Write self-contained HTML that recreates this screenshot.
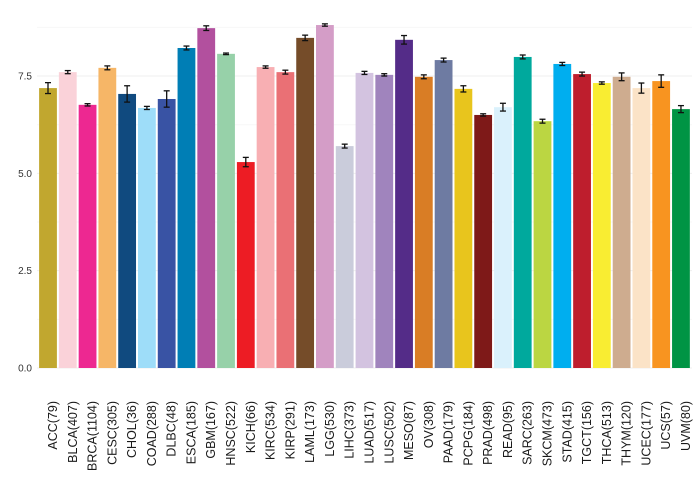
<!DOCTYPE html>
<html><head><meta charset="utf-8"><style>
html,body{margin:0;padding:0;background:#fff;}
svg{display:block;font-family:"Liberation Sans",sans-serif;}
</style></head><body>
<svg id="chart" width="700" height="480" viewBox="0 0 700 480" xmlns="http://www.w3.org/2000/svg">
<g id="grid"></g>
<g id="bars"></g>
<g id="errs"></g>
<g id="yax"></g>
<g id="xax"></g>
</svg>
<script>
const categories = ["ACC(79)","BLCA(407)","BRCA(1104)","CESC(305)","CHOL(36)","COAD(288)","DLBC(48)","ESCA(185)","GBM(167)","HNSC(522)","KICH(66)","KIRC(534)","KIRP(291)","LAML(173)","LGG(530)","LIHC(373)","LUAD(517)","LUSC(502)","MESO(87)","OV(308)","PAAD(179)","PCPG(184)","PRAD(498)","READ(95)","SARC(263)","SKCM(473)","STAD(415)","TGCT(156)","THCA(513)","THYM(120)","UCEC(177)","UCS(57)","UVM(80)"];
const values = [7.19,7.60,6.76,7.71,7.04,6.68,6.91,8.22,8.73,8.07,5.29,7.73,7.60,8.48,8.81,5.70,7.58,7.53,8.43,7.48,7.91,7.17,6.50,6.70,7.99,6.34,7.81,7.55,7.32,7.48,7.19,7.37,6.65];
const errors = [0.14,0.04,0.03,0.05,0.21,0.04,0.21,0.05,0.06,0.02,0.12,0.03,0.05,0.07,0.03,0.05,0.04,0.03,0.11,0.05,0.05,0.08,0.03,0.10,0.05,0.05,0.04,0.05,0.03,0.10,0.13,0.16,0.09];
const colors = ["#C1A72F","#FAD2D9","#ED2891","#F6B667","#104A7F","#9EDDF9","#3953A4","#007EB5","#B2509E","#97D1A9","#ED1C24","#F8AFB3","#EA7075","#754C29","#D49DC7","#CACCDB","#D3C3E0","#A084BD","#542C88","#D97D25","#6E7BA2","#E8C51D","#7E1918","#DAF1FC","#00A99D","#BBD642","#00AEEF","#BE1E2D","#F9ED32","#CEAC8F","#FBE3C7","#F89420","#009444"];
const yTicks = [0,2.5,5,7.5];
const yTickLabels = ["0.0","2.5","5.0","7.5"];
const yMinor = [1.25,3.75,6.25,8.75];

const NS="http://www.w3.org/2000/svg";
const y0=368, ppu=38.93;
function yScale(v){return y0 - v*ppu;}
function xCenter(i){return 48 + i*19.78;}
const bw=17.8;
function mk(tag,attrs,parent){const e=document.createElementNS(NS,tag);for(const k in attrs)e.setAttribute(k,attrs[k]);parent.appendChild(e);return e;}
const grid=document.getElementById('grid'),bars=document.getElementById('bars'),errs=document.getElementById('errs'),yax=document.getElementById('yax'),xax=document.getElementById('xax');
yMinor.forEach(v=>{const l=mk('line',{x1:37,x2:692,y1:yScale(v),y2:yScale(v),stroke:'#f7f7f7','stroke-width':1},grid);

});
yTicks.forEach((v,i)=>{const l=mk('line',{x1:37,x2:692,y1:yScale(v),y2:yScale(v),stroke:'#efefef','stroke-width':1},grid);


const t=mk('text',{x:32,y:yScale(v)+3.5,'text-anchor':'end','font-size':10,fill:'#333'},yax);t.textContent=yTickLabels[i];

});
categories.forEach((c,i)=>{const cx=xCenter(i),v=values[i],e=errors[i];
const r=mk('rect',{x:cx-bw/2,y:yScale(v),width:bw,height:y0-yScale(v),fill:colors[i]},bars);


const g=mk('g',{stroke:'#111','stroke-width':1.3},errs);


mk('line',{x1:cx,x2:cx,y1:yScale(v+e),y2:yScale(v-e)},g);
mk('line',{x1:cx-3,x2:cx+3,y1:yScale(v+e),y2:yScale(v+e)},g);
mk('line',{x1:cx-3,x2:cx+3,y1:yScale(v-e),y2:yScale(v-e)},g);
const t=mk('text',{x:0,y:0,'text-anchor':'end','font-size':12.5,fill:'#1a1a1a',transform:'translate('+(cx+9)+',401) rotate(-90)'},xax);t.textContent=c;

});
</script>
</body></html>
